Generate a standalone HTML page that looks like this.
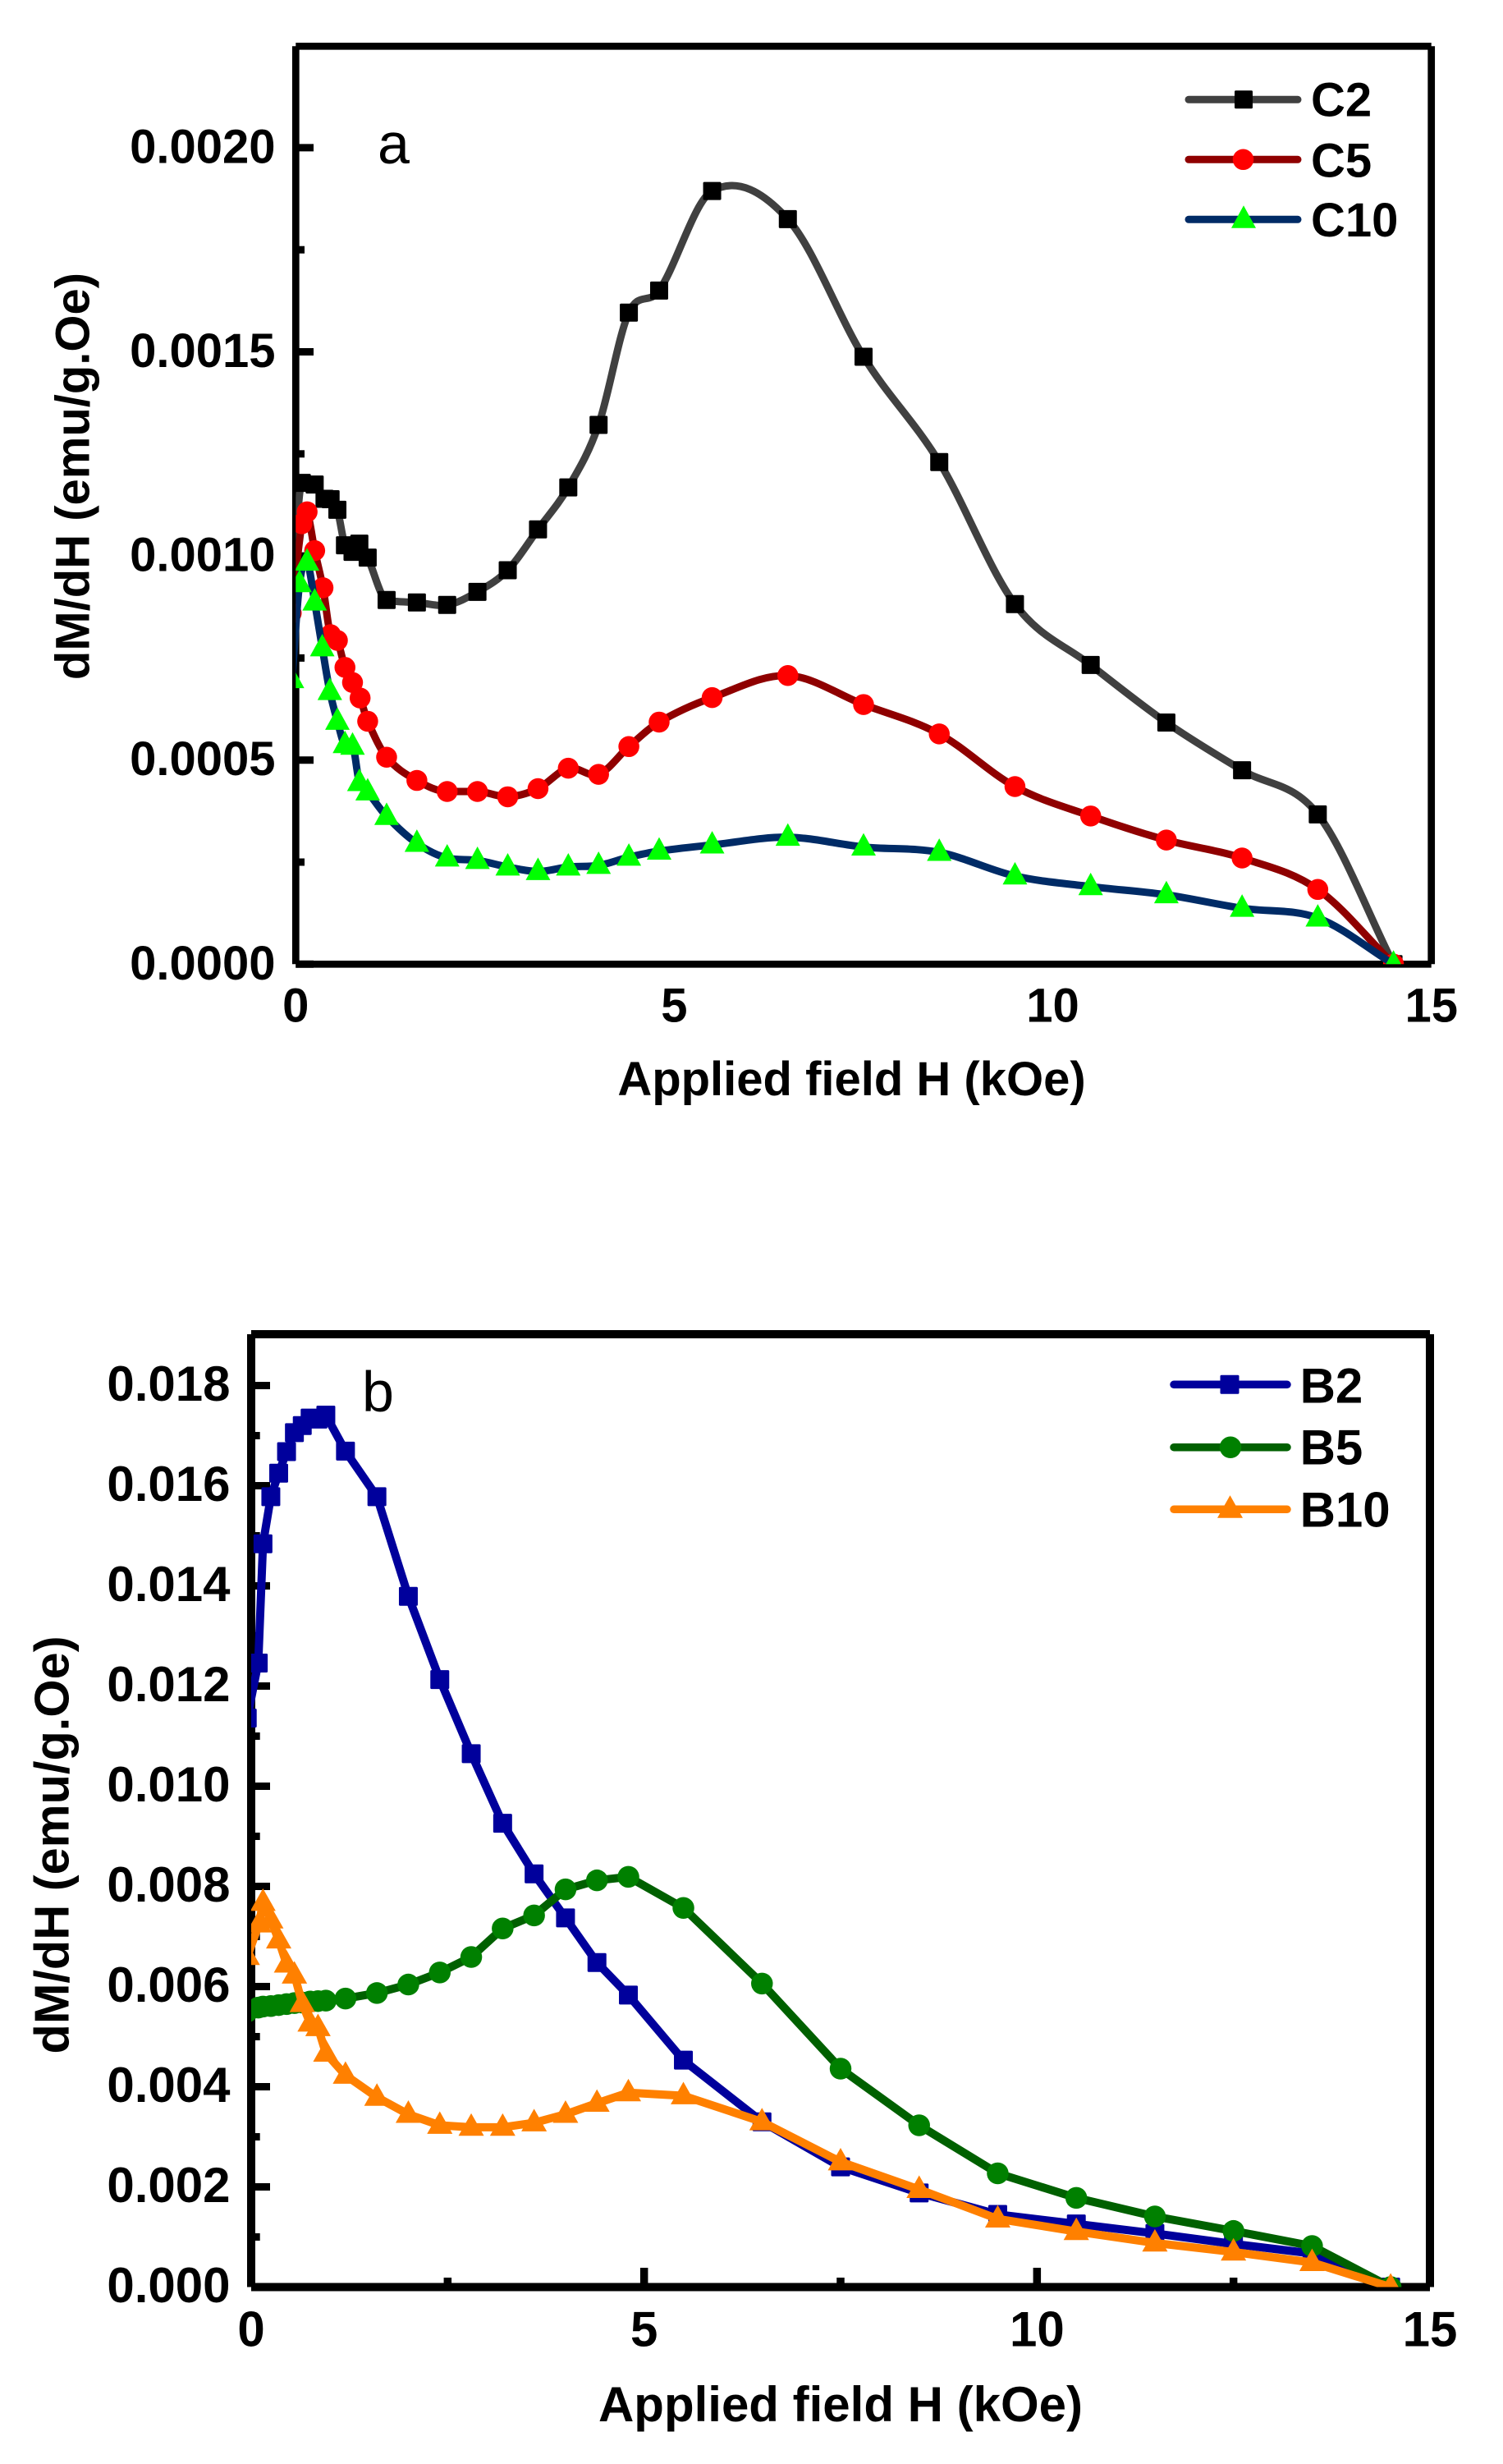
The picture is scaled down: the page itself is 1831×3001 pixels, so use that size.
<!DOCTYPE html>
<html lang="en">
<head>
<meta charset="utf-8">
<title>dM/dH versus applied field</title>
<style>
html,body{margin:0;padding:0;background:#fff}
svg{display:block}
text{font-family:"Liberation Sans",Arial,sans-serif;fill:#000}
.b{font-weight:700}
</style>
</head>
<body>
<svg id="fig" xmlns="http://www.w3.org/2000/svg" width="1831" height="3001" viewBox="0 0 1831 3001">
  <rect width="1831" height="3001" fill="#fff"/>
  <g id="chart-a">
    <text x="460" y="199" font-size="70">a</text>
    <text class="b" x="1037.5" y="1334" font-size="58" text-anchor="middle">Applied field H (kOe)</text>
    <text class="b" transform="translate(108.5,580) rotate(-90)" font-size="58" text-anchor="middle">dM/dH (emu/g.Oe)</text>
  </g>
  <g id="chart-b">
    <text x="441" y="1719" font-size="70">b</text>
    <text class="b" x="1024" y="2949" font-size="60" text-anchor="middle">Applied field H (kOe)</text>
    <text class="b" transform="translate(83.5,2247) rotate(-90)" font-size="59.5" text-anchor="middle">dM/dH (emu/g.Oe)</text>
  </g>
</svg>
<script>
// ---- Panel a data ----
var c2Field = [-0.05,0.08,0.25,0.38,0.46,0.55,0.65,0.75,0.84,0.95,1.2,1.6,2,2.4,2.8,3.2,3.6,4,4.4,4.8,5.5,6.5,7.5,8.5,9.5,10.5,11.5,12.5,13.5,14.5];
var c2Values = [0.0009,0.001179,0.001175,0.00114,0.001139,0.001113,0.001026,0.00101,0.00103,0.000996,0.000892,0.000886,0.00088,0.000912,0.000965,0.001065,0.001168,0.001321,0.001596,0.00165,0.001894,0.001825,0.001488,0.00123,0.000882,0.000733,0.000592,0.000475,0.000367,0];
var c5Field = [-0.06,0.08,0.15,0.25,0.36,0.46,0.55,0.65,0.75,0.85,0.95,1.2,1.6,2,2.4,2.8,3.2,3.6,4,4.4,4.8,5.5,6.5,7.5,8.5,9.5,10.5,11.5,12.5,13.5,14.5];
var c5Values = [0.00086,0.001079,0.001108,0.001013,0.000922,0.000807,0.000793,0.000727,0.00069,0.000652,0.000595,0.000507,0.00045,0.000423,0.000423,0.00041,0.00043,0.00048,0.000465,0.000533,0.000593,0.000653,0.000707,0.000636,0.000564,0.000435,0.000363,0.000304,0.00026,0.000183,0];
var c10Field = [-0.05,0.05,0.15,0.25,0.35,0.45,0.55,0.65,0.75,0.84,0.95,1.2,1.6,2,2.4,2.8,3.2,3.6,4,4.4,4.8,5.5,6.5,7.5,8.5,9.5,10.5,11.5,12.5,13.5,14.5];
var c10Values = [0.000697,0.000932,0.000985,0.000887,0.000775,0.000668,0.000595,0.000538,0.000534,0.000445,0.000422,0.000362,0.000296,0.00026,0.000254,0.000238,0.000227,0.000238,0.000242,0.000262,0.000277,0.000292,0.000311,0.000287,0.000274,0.000216,0.00019,0.00017,0.000137,0.000113,0];
var aYMajor = [0,0.0005,0.001,0.0015,0.002];
var aYMinor = [0.00025,0.00075,0.00125,0.00175];
var aYLabels = ["0.0000","0.0005","0.0010","0.0015","0.0020"];
var aXMajor = [0,5,10,15];
var aXLabels = ["0","5","10","15"];

// ---- Panel b data ----
var b2Field = [-0.05,0.09,0.15,0.25,0.35,0.45,0.55,0.65,0.75,0.85,0.95,1.2,1.6,2,2.4,2.8,3.2,3.6,4,4.4,4.8,5.5,6.5,7.5,8.5,9.5,10.5,11.5,12.5,13.5,14.5];
var b2Values = [0.01136,0.01246,0.01484,0.01578,0.01625,0.01668,0.01706,0.0172,0.01735,0.01733,0.01741,0.01669,0.01578,0.01379,0.01213,0.01065,0.00926,0.00825,0.00737,0.00648,0.00583,0.00453,0.0033,0.0024,0.00188,0.00145,0.00126,0.00107,0.00086,0.00067,0];
var b5Field = [-0.05,0.09,0.15,0.25,0.35,0.45,0.55,0.65,0.75,0.85,0.95,1.2,1.6,2,2.4,2.8,3.2,3.6,4,4.4,4.8,5.5,6.5,7.5,8.5,9.5,10.5,11.5,12.5,13.5,14.5];
var b5Values = [0.0055,0.00558,0.0056,0.00561,0.00563,0.00565,0.00567,0.00568,0.0057,0.00571,0.00572,0.00576,0.00587,0.00604,0.00628,0.00659,0.00716,0.00742,0.00794,0.00812,0.00819,0.00757,0.00606,0.00436,0.00323,0.00227,0.00178,0.00141,0.00112,0.00082,0];
var b10Field = [-0.05,0.1,0.15,0.25,0.35,0.45,0.55,0.65,0.75,0.85,0.95,1.2,1.6,2,2.4,2.8,3.2,3.6,4,4.4,4.8,5.5,6.5,7.5,8.5,9.5,10.5,11.5,12.5,13.5,14.5];
var b10Values = [0.0066,0.00725,0.00768,0.00733,0.00693,0.00645,0.00623,0.00566,0.00527,0.00518,0.00467,0.00423,0.00379,0.00345,0.00323,0.00319,0.00319,0.00328,0.00345,0.00367,0.00388,0.00382,0.0033,0.0025,0.00195,0.00136,0.00111,0.00088,0.0007,0.00049,0];
var bYMajor = [0,0.002,0.004,0.006,0.008,0.01,0.012,0.014,0.016,0.018];
var bYMinor = [0.001,0.003,0.005,0.007,0.009,0.011,0.013,0.015,0.017];
var bYLabels = ["0.000","0.002","0.004","0.006","0.008","0.010","0.012","0.014","0.016","0.018"];
var bXMajor = [0,5,10,15];
var bXLabels = ["0","5","10","15"];
var bXTicksMajor = [5,10];
var bXTicksMinor = [2.5,7.5,12.5];

var NS = 'http://www.w3.org/2000/svg';
function mk(parent, tag, attrs) {
  var el = document.createElementNS(NS, tag);
  for (var k in attrs) el.setAttribute(k, attrs[k]);
  parent.appendChild(el);
  return el;
}

// Axis functions
function axA_x(v) { return 360.3 + v * (1743.7 - 360.3) / 15; }
function axA_y(v) { return 1174.3 - v * 497200; }
function axB_x(v) { return 306 + v * (1742 - 306) / 15; }
function axB_y(v) { return 2785.5 - v * 61000; }

function smoothPath(px, py) {
  var m = [];
  var n = px.length;
  for (var i = 0; i < n; i++) {
    var a = Math.max(0, i - 1), b = Math.min(n - 1, i + 1);
    var t = (py[b] - py[a]) / ((px[b] - px[a]) || 1);
    if (i > 0 && i < n - 1) {
      var sl = Math.abs((py[i] - py[i - 1]) / ((px[i] - px[i - 1]) || 1));
      var sr = Math.abs((py[i + 1] - py[i]) / ((px[i + 1] - px[i]) || 1));
      var lim = 3 * Math.min(sl, sr);
      if (Math.abs(t) > lim) t = t > 0 ? lim : -lim;
    }
    m[i] = t;
  }
  var d = 'M' + px[0].toFixed(1) + ' ' + py[0].toFixed(1);
  for (var j = 0; j < n - 1; j++) {
    var h = (px[j + 1] - px[j]) / 3;
    d += 'C' + (px[j] + h).toFixed(1) + ' ' + (py[j] + m[j] * h).toFixed(1) + ' ' +
         (px[j + 1] - h).toFixed(1) + ' ' + (py[j + 1] - m[j + 1] * h).toFixed(1) + ' ' +
         px[j + 1].toFixed(1) + ' ' + py[j + 1].toFixed(1);
  }
  return d;
}
function straightPath(px, py) {
  var d = '';
  for (var i = 0; i < px.length; i++) d += (i ? 'L' : 'M') + px[i].toFixed(1) + ' ' + py[i].toFixed(1);
  return d;
}

function drawMarker(g, shape, cx, cy, size, fill) {
  var el;
  if (shape === 'square') {
    el = mk(g, 'rect', {x: cx - size / 2, y: cy - size / 2, width: size, height: size, rx: 1.5, fill: fill});
  } else if (shape === 'circle') {
    el = mk(g, 'circle', {cx: cx, cy: cy, r: size / 2, fill: fill});
  } else {
    var w = size, top = cy - 17, bot = cy + 10.4;
    el = mk(g, 'polygon', {points: (cx - w / 2) + ',' + bot + ' ' + cx + ',' + top + ' ' + (cx + w / 2) + ',' + bot, fill: fill});
  }
  return el;
}

function drawSeries(root, clipId, name, field, values, fx, fy, smooth, lineColor, width, shape, size, fill) {
  var g = mk(root, 'g', {'clip-path': 'url(#' + clipId + ')'});
  
  
  var px = field.map(fx), py = values.map(fy);
  var line = mk(g, 'path', {d: smooth ? smoothPath(px, py) : straightPath(px, py), fill: 'none', stroke: lineColor, 'stroke-width': width, 'stroke-linejoin': 'round'});
  
  
  for (var i = 0; i < px.length; i++) {
    var mark = drawMarker(g, shape, px[i], py[i], size, fill);
    
    
  }
}

function drawAxes(root, suffix, x0, x1, y0, y1, sw) {
  var sides = [['left', x0, y1, x0, y0], ['right', x1, y1, x1, y0], ['top', x0, y1, x1, y1], ['bottom', x0, y0, x1, y0]];
  sides.forEach(function (s) {
    var l = mk(root, 'line', {x1: s[1], y1: s[2], x2: s[3], y2: s[4], stroke: '#000', 'stroke-width': sw});
    
    
  });
}

function yTicks(root, suffix, fy, x0, major, minor, labels, majLen, minLen, labelX, fs) {
  major.forEach(function (v, i) {
    var t = mk(root, 'line', {x1: x0, y1: fy(v), x2: x0 + majLen, y2: fy(v), stroke: '#000', 'stroke-width': 9});
    
    
    var lab = mk(root, 'text', {x: labelX, y: fy(v) + 18.5, 'font-size': fs, 'font-weight': 700, 'text-anchor': 'end'});
    
    
    lab.textContent = labels[i];
  });
  minor.forEach(function (v) {
    var t = mk(root, 'line', {x1: x0, y1: fy(v), x2: x0 + minLen, y2: fy(v), stroke: '#000', 'stroke-width': 9});
    
    
  });
}

function xLabels(root, suffix, fx, major, labels, baseline, fs) {
  major.forEach(function (v, i) {
    var lab = mk(root, 'text', {x: fx(v), y: baseline, 'font-size': fs, 'font-weight': 700, 'text-anchor': 'middle'});
    
    
    lab.textContent = labels[i];
  });
}

function legendEntry(root, name, lx0, lx1, ly, mx, color, width, shape, size, fill, label, tx, ty, fs) {
  var g = mk(root, 'g', {});
  
  
  mk(g, 'line', {x1: lx0 + 4, y1: ly, x2: lx1 - 4, y2: ly, stroke: color, 'stroke-width': width, 'stroke-linecap': 'round'});
  drawMarker(g, shape, mx, ly, size, fill);
  var t = mk(g, 'text', {x: tx, y: ty, 'font-size': fs, 'font-weight': 700});
  t.textContent = label;
}

var svg = document.getElementById('fig');
var defs = mk(svg, 'defs', {});
var ca = mk(defs, 'clipPath', {id: 'clip-a'});
mk(ca, 'rect', {x: 360.3, y: 56.3, width: 1383.4, height: 1118});
var cb = mk(defs, 'clipPath', {id: 'clip-b'});
mk(cb, 'rect', {x: 306, y: 1625, width: 1436, height: 1160.5});

// Panel a
var A = document.getElementById('chart-a');
yTicks(A, 'a', axA_y, 360.3, aYMajor, aYMinor, aYLabels, 21.7, 10.7, 335.5, 58);
xLabels(A, 'a', axA_x, aXMajor, aXLabels, 1244.5, 58);
drawAxes(A, 'a', 360.3, 1743.7, 1174.3, 56.3, 8.7);
drawSeries(A, 'clip-a', 'c2', c2Field, c2Values, axA_x, axA_y, true, '#404040', 9, 'square', 22, '#000000');
drawSeries(A, 'clip-a', 'c5', c5Field, c5Values, axA_x, axA_y, true, '#8f0000', 9, 'circle', 25.5, '#ff0000');
drawSeries(A, 'clip-a', 'c10', c10Field, c10Values, axA_x, axA_y, true, '#002b66', 9, 'triangle', 30, '#00ff00');
legendEntry(A, 'c2', 1444, 1585, 121.3, 1515, '#404040', 9, 'square', 22, '#000000', 'C2', 1597, 141.7, 58);
legendEntry(A, 'c5', 1444, 1585, 194.3, 1514.5, '#8f0000', 9, 'circle', 25.5, '#ff0000', 'C5', 1597, 215.7, 58);
legendEntry(A, 'c10', 1444, 1585, 267.3, 1515, '#002b66', 9, 'triangle', 30, '#00ff00', 'C10', 1597, 288, 58);

// Panel b
var B = document.getElementById('chart-b');
yTicks(B, 'b', axB_y, 306, bYMajor, bYMinor, bYLabels, 23, 10.7, 280.5, 60);
xLabels(B, 'b', axB_x, bXMajor, bXLabels, 2857.5, 60);
bXTicksMajor.forEach(function (v) {
  var t = mk(B, 'line', {x1: axB_x(v), y1: 2785.5, x2: axB_x(v), y2: 2762, stroke: '#000', 'stroke-width': 9.5});
  
  
});
bXTicksMinor.forEach(function (v) {
  var t = mk(B, 'line', {x1: axB_x(v), y1: 2785.5, x2: axB_x(v), y2: 2774, stroke: '#000', 'stroke-width': 9.5});
  
  
});
drawAxes(B, 'b', 306, 1742, 2785.5, 1625, 10);
drawSeries(B, 'clip-b', 'b2', b2Field, b2Values, axB_x, axB_y, false, '#00009c', 10, 'square', 23, '#00009c');
drawSeries(B, 'clip-b', 'b5', b5Field, b5Values, axB_x, axB_y, false, '#006000', 10, 'circle', 26.5, '#008000');
drawSeries(B, 'clip-b', 'b10', b10Field, b10Values, axB_x, axB_y, false, '#ff8000', 10, 'triangle', 31, '#ff8000');
legendEntry(B, 'b2', 1426, 1572, 1686.3, 1498, '#00009c', 9.5, 'square', 23, '#00009c', 'B2', 1583.6, 1708.7, 60);
legendEntry(B, 'b5', 1426, 1572, 1762.7, 1499, '#006000', 9.5, 'circle', 26.5, '#008000', 'B5', 1583.6, 1783.7, 60);
legendEntry(B, 'b10', 1426, 1572, 1838.3, 1498.5, '#ff8000', 9.5, 'triangle', 31, '#ff8000', 'B10', 1583.6, 1859.7, 60);
</script>
</body>
</html>
